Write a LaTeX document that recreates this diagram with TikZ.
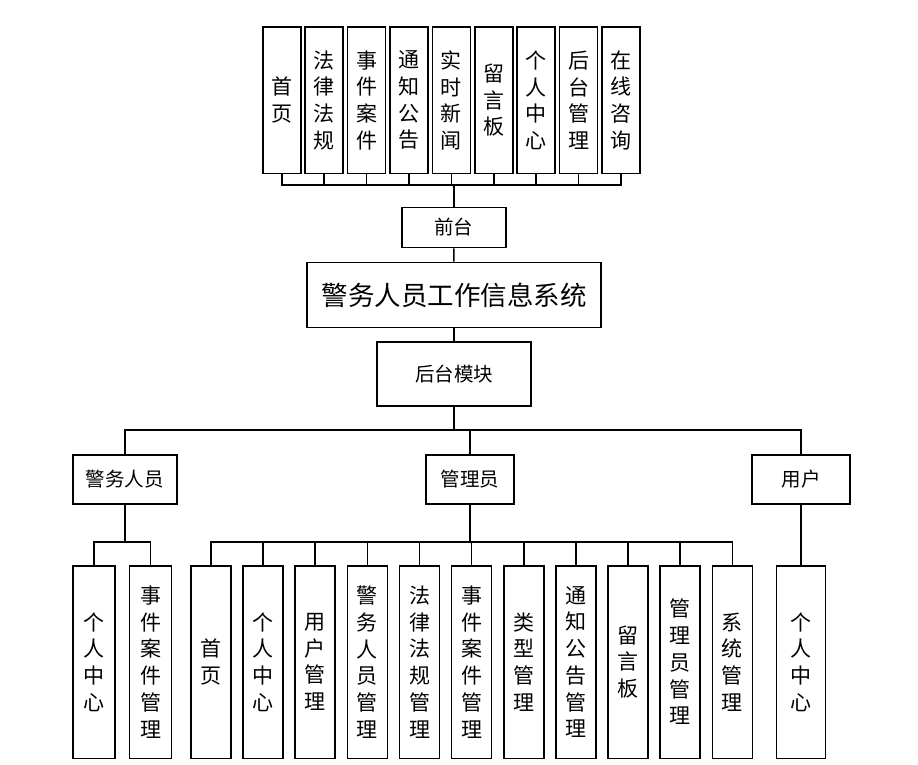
\documentclass[tikz,border=0pt]{standalone}
\usepackage{fontspec}
\newfontfamily\cjk{Noto Sans CJK SC}

\begin{document}
\begin{tikzpicture}[x=1pt,y=-1pt,line width=1.6pt]
		\useasboundingbox (0,0) rectangle (918,765);

		\begin{scope}[every node/.style={draw,inner sep=0pt,align=center,font=\cjk\fontsize{21}{26.7}\selectfont}]
			% top menu
			\foreach \t [count=\i] in {{首\\页},{法\\律\\法\\规},{事\\件\\案\\件},{通\\知\\公\\告},{实\\时\\新\\闻},{留\\言\\板},{个\\人\\中\\心},{后\\台\\管\\理},{在\\线\\咨\\询}}
				\node[minimum width=38pt,minimum height=146pt] (t\i) at ({281.7+(\i-1)*42.4},100.3) {\t};
			% police
			\node[minimum width=42pt,minimum height=192.6pt] (j1) at (93.8,662) {个\\人\\中\\心};
			\node[minimum width=42pt,minimum height=192.6pt] (j2) at (150.5,662) {事\\件\\案\\件\\管\\理};
			% admin
			\foreach \t [count=\i] in {{首\\页},{个\\人\\中\\心},{用\\户\\管\\理},{警\\务\\人\\员\\管\\理},{法\\律\\法\\规\\管\\理},{事\\件\\案\\件\\管\\理},{类\\型\\管\\理},{通\\知\\公\\告\\管\\理},{留\\言\\板},{管\\理\\员\\管\\理},{系\\统\\管\\理}}
				\node[minimum width=40pt,minimum height=192.6pt] (g\i) at ({211+(\i-1)*52.13},662) {\t};
			% user
			\node[minimum width=49pt,minimum height=192.6pt] (u1) at (801,662) {个\\人\\中\\心};
		\end{scope}

		\begin{scope}[every node/.style={draw,inner sep=0pt,font=\cjk\fontsize{19.5}{24}\selectfont}]
			\node[minimum width=104pt,minimum height=40pt] (qt) at (453.7,227.5) {前台};
			\node[minimum width=294pt,minimum height=65pt,font=\cjk\fontsize{26.5}{30}\selectfont] (sys) at (454,295) {警务人员工作信息系统};
			\node[minimum width=154pt,minimum height=64pt] (ht) at (454,374) {后台模块};
			\node[minimum width=104pt,minimum height=49pt] (jw) at (124.7,479.5) {警务人员};
			\node[minimum width=88pt,minimum height=49pt] (gly) at (470,479.5) {管理员};
			\node[minimum width=98pt,minimum height=49pt] (yh) at (801,479.5) {用户};
		\end{scope}

		% connectors
		\coordinate (topbus) at (453.7,184.7);
		\foreach \i in {1,...,9}
			\draw (t\i.south) |- (topbus);
		\draw (topbus) -- (qt.north);
		\draw (qt) -- (sys);
		\draw (sys) -- (ht);

		\coordinate (midbus) at (454,430);
		\draw (ht.south) -- (midbus);
		\foreach \n in {jw,gly,yh}
			\draw (midbus) -| (\n.north);

		\coordinate (jbus) at (124.7,541.7);
		\draw (jw.south) -- (jbus);
		\foreach \i in {1,2}
			\draw (jbus) -| (j\i.north);

		\coordinate (gbus) at (470,541.7);
		\draw (gly.south) -- (gbus);
		\foreach \i in {1,...,11}
			\draw (gbus) -| (g\i.north);

		\draw (yh.south) -- (u1.north);
	\end{tikzpicture}
\end{document}
